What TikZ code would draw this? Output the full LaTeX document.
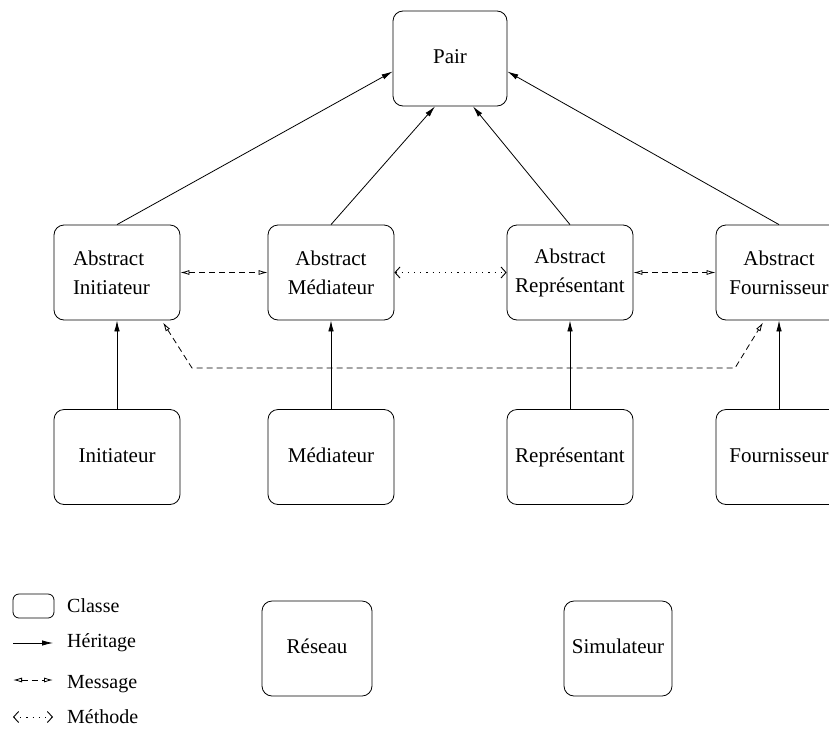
\documentclass[tikz,border=0pt]{standalone}
\usepackage{fontspec}
\setmainfont{Liberation Serif}
\usetikzlibrary{arrows.meta,positioning,calc}

\begin{document}
\begin{tikzpicture}[x=1pt, y=-1pt,
    classnode/.style={rectangle, draw, rounded corners=10pt, line width=0.8pt, minimum width=126pt, minimum height=95pt, inner sep=0pt, align=center, font=\fontsize{21}{29}\selectfont},
    singleline/.style={text height=15pt, text depth=5pt},
    heritage/.style={-{Latex[length=11pt,width=5.5pt]}, line width=0.8pt},
    message/.style={{Latex[open,length=9pt,width=5pt]}-{Latex[open,length=9pt,width=5pt]}, dash pattern=on 6pt off 4pt, line width=0.8pt},
    methode/.style={{Straight Barb[length=5pt,width=11pt,line width=0.9pt]}-{Straight Barb[length=5pt,width=11pt,line width=0.9pt]}, dash pattern=on 1.2pt off 5pt, line width=0.9pt},
    legendtext/.style={anchor=west, inner sep=0pt, font=\fontsize{20}{24}\selectfont}
]
    \useasboundingbox (0,0) rectangle (829,728);

    % Classes
    \node[classnode, singleline, minimum width=114pt] (pair) at (450,58.5) {Pair};
    \node[classnode, text width=88pt, align=left] (absinit) at (117,272.5) {Abstract\\Initiateur};
    \node[classnode] (absmed) at (331,272.5) {Abstract\\Médiateur};
    \node[classnode] (absrep) at (570,272.5) {Abstract\\Représentant};
    \node[classnode] (absfour) at (779,272.5) {Abstract\\Fournisseur};
    \node[classnode, singleline] (init) at (117,457) {Initiateur};
    \node[classnode, singleline] (med) at (331,457) {Médiateur};
    \node[classnode, singleline] (rep) at (570,457) {Représentant};
    \node[classnode, singleline] (four) at (779,457) {Fournisseur};
    \node[classnode, singleline, minimum width=110pt] (reseau) at (317,648.5) {Réseau};
    \node[classnode, singleline, minimum width=108pt] (simul) at (618,648.5) {Simulateur};

    % Heritage
    \draw[heritage] (absinit.north) -- ([yshift=-13pt]pair.west);
    \draw[heritage] (absmed.north) -- ([xshift=-15pt]pair.south);
    \draw[heritage] (absrep.north) -- ([xshift=23pt]pair.south);
    \draw[heritage] (absfour.north) -- ([yshift=-13pt]pair.east);
    \draw[heritage] (init) -- (absinit);
    \draw[heritage] (med) -- (absmed);
    \draw[heritage] (rep) -- (absrep);
    \draw[heritage] (four) -- (absfour);

    % Messages and methodes
    \draw[message] (absinit) -- (absmed);
    \draw[methode] (absmed) -- (absrep);
    \draw[message] (absrep) -- (absfour);
    \coordinate (msgleft) at (192,368);
    \coordinate (msgright) at (735,368);
    \draw[message] ([xshift=46pt,yshift=-2pt]absinit.south) -- (msgleft) -- (msgright) -- ([xshift=-16pt,yshift=-2pt]absfour.south);

    % Legend
    \node[classnode, minimum width=41pt, minimum height=24pt, rounded corners=6pt] (legbox) at (33.5,606) {};
    \node[legendtext] (legclass) at (67,606) {Classe};
    \node[legendtext] (legher) at (67,643) {Héritage};
    \node[legendtext] (legmsg) at (67,684) {Message};
    \node[legendtext] (legmeth) at (67,717) {Méthode};
    \draw[heritage] ([xshift=-54pt]legher.west) -- ([xshift=-14pt]legher.west);
    \draw[message] ([xshift=-54pt,yshift=4pt]legmsg.west) -- ([xshift=-14pt,yshift=4pt]legmsg.west);
    \draw[methode] ([xshift=-54pt]legmeth.west) -- ([xshift=-14pt]legmeth.west);
\end{tikzpicture}
\end{document}
